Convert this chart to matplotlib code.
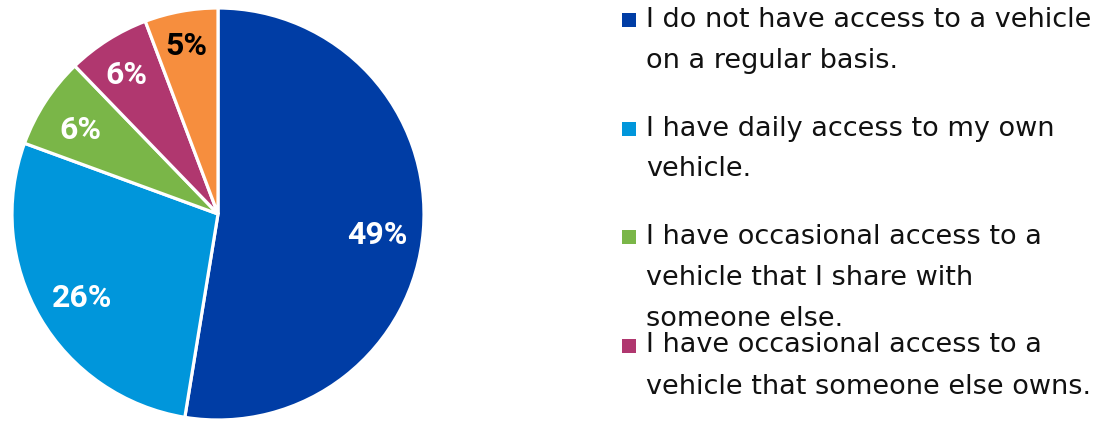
import matplotlib
matplotlib.use("Agg")
import matplotlib.pyplot as plt
import numpy as np
from matplotlib.patches import Rectangle

categories = [
    "I do not have access to a vehicle\non a regular basis.",
    "I have daily access to my own\nvehicle.",
    "I have occasional access to a\nvehicle that I share with\nsomeone else.",
    "I have occasional access to a\nvehicle that someone else owns.",
    "Other",
]
# slice sizes (labels as printed)
values = [49.0, 26.1, 6.7, 6.05, 5.35]
value_labels = ["49%", "26%", "6%", "6%", "5%"]
colors = ["#003DA5", "#0096DB", "#7AB648", "#B0376F", "#F68E3E"]
label_colors = ["white", "white", "white", "white", "black"]
label_dist = [0.78, 0.77, 0.79, 0.82, 0.845]
label_angle_shift = [-1.8, 0.5, 0.8, 0.7, 0.3]

plt.rcParams['font.family'] = ['DejaVu Sans']

W, H = 1118, 421
fig = plt.figure(figsize=(W / 100, H / 100), dpi=100)

# Pie axes: square, centred at (218, 214) px
size = 421
cx, cy = 218, 214
ax = fig.add_axes([(cx - size / 2) / W, (H - cy - size / 2) / H, size / W, size / H])
R = 206 / (size / 2)
wedges, _ = ax.pie(values, colors=colors, startangle=90, counterclock=False,
                   radius=R, wedgeprops=dict(edgecolor="white", linewidth=2.3))
ax.set_xlim(-1, 1)
ax.set_ylim(-1, 1)
ax.set_aspect("equal")
ax.axis("off")

for w, lab, c, d, s in zip(wedges, value_labels, label_colors, label_dist, label_angle_shift):
    ang = np.deg2rad((w.theta1 + w.theta2) / 2 + s)
    ax.text(d * R * np.cos(ang), d * R * np.sin(ang), lab, ha="center", va="center_baseline",
            fontsize=23, fontweight="bold", color=c, family=["Roboto", "DejaVu Sans"])

# Legend drawn manually (last entry falls outside the figure)
entry_y0 = 20
entry_step = 108.5
line_h = 41
for i, (cat, col) in enumerate(zip(categories[:4], colors[:4])):
    yc = entry_y0 + i * entry_step
    fig.patches.append(Rectangle((622 / W, 1 - (yc + 7) / H), 14 / W, 14 / H,
                                 transform=fig.transFigure, facecolor=col, edgecolor="none"))
    for j, line in enumerate(cat.split("\n")):
        fig.text(646 / W, 1 - (yc + j * line_h) / H, line, ha="left", va="center",
                 fontsize=19.5, color="#111111")

fig.savefig("out.png", dpi=100)
